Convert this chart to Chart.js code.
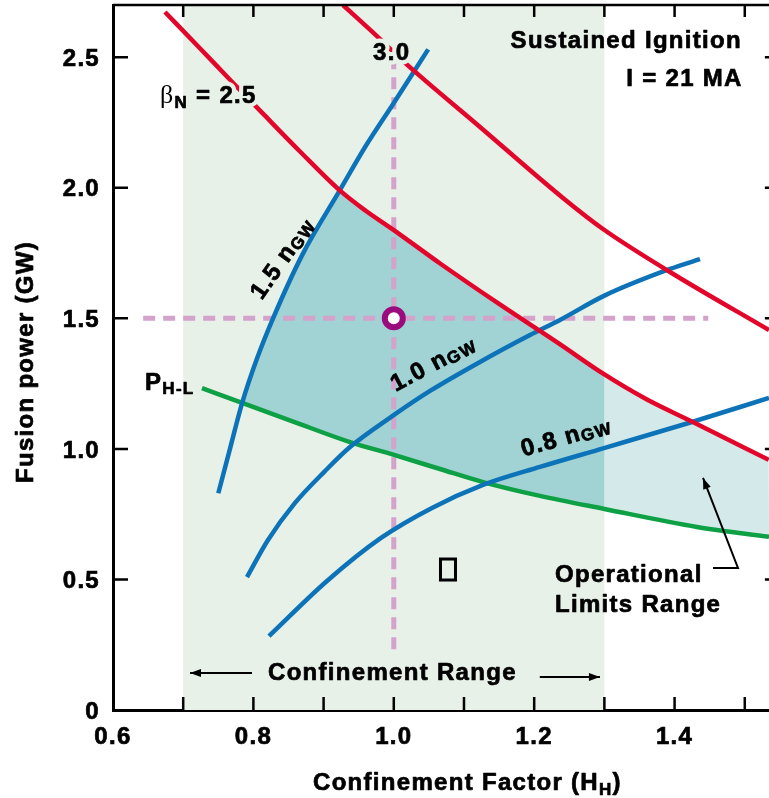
<!DOCTYPE html>
<html>
<head>
<meta charset="utf-8">
<script src="https://cdn.jsdelivr.net/npm/chart.js@4.4.0/dist/chart.umd.min.js"></script>
<style>
  html, body { margin: 0; padding: 0; background: #fff; }
  #wrap { width: 769px; height: 798px; }
</style>
</head>
<body>
<div id="wrap"><canvas id="chart" width="769" height="798"></canvas></div>
<script>
// Confinement factor H_H (x) against fusion power in GW (y)
const xTicks = [0.6, 0.8, 1.0, 1.2, 1.4];
const xMinorTicks = [0.7, 0.8, 0.9, 1.0, 1.1, 1.2, 1.3, 1.4, 1.5];
const yTicks = [0, 0.5, 1.0, 1.5, 2.0, 2.5];
const xRange = [0.6, 1.5345];
const yRange = [0, 2.7];
const confinementRange = [0.7, 1.3];

const betaN25 = [[0.674, 2.673], [0.72, 2.545], [0.767, 2.413], [0.815, 2.28], [0.866, 2.14], [0.923, 1.99],
  [0.96, 1.912], [1.0, 1.838], [1.066, 1.71], [1.15, 1.555], [1.237, 1.40], [1.3, 1.285], [1.36, 1.19],
  [1.426, 1.103], [1.534, 0.958]];
const betaN30 = [[0.9276, 2.70], [0.976, 2.581], [1.0117, 2.489], [1.1228, 2.233], [1.241, 1.961],
  [1.298, 1.842], [1.3934, 1.6775], [1.5345, 1.455]];
const nGW15 = [[0.75, 0.83], [0.767, 1.004], [0.784, 1.176], [0.805, 1.345], [0.828, 1.50], [0.87, 1.745],
  [0.923, 1.99], [0.96, 2.16], [1.0, 2.325], [1.049, 2.53]];
const nGW10 = [[0.7909, 0.509], [0.8208, 0.651], [0.8593, 0.793], [0.902, 0.915], [0.9376, 1.007],
  [1.0003, 1.13], [1.0516, 1.222], [1.1228, 1.333], [1.194, 1.436], [1.2368, 1.494], [1.2994, 1.586],
  [1.3934, 1.689], [1.4362, 1.727]];
const nGW08 = [[0.8222, 0.283], [0.9048, 0.494], [0.9818, 0.659], [1.0544, 0.774], [1.1271, 0.862],
  [1.2083, 0.931], [1.2994, 1.003], [1.4248, 1.103], [1.5345, 1.195]];
const powerHL = [[0.7268, 1.233], [0.784, 1.176], [0.8664, 1.095], [0.9376, 1.026], [1.0003, 0.977],
  [1.0658, 0.923], [1.1271, 0.873], [1.2083, 0.82], [1.3, 0.77], [1.4319, 0.701], [1.5345, 0.663]];
const operatingPoint = [[1.0, 1.5]];
const guideH = [[0.643, 1.5], [1.448, 1.5]];
const guideV = [[1.0, 2.50], [1.0, 0.22]];

const FONT = '"Liberation Sans", Arial, Helvetica, sans-serif';
const BAND = '#e7f1e8';
const RED = '#e3062b';
const BLUE = '#0d73b8';
const GREEN = '#0ea044';

function toXY(pts) {
  return pts.map(p => ({ x: p[0], y: p[1] }));
}

function between(pts, lo, hi) {
  return pts.filter(p => p[0] >= lo - 1e-9 && p[0] <= hi + 1e-9);
}

// operating region: left edge is the 1.5 nGW curve, top is beta 2.5, bottom is P_H-L
const xMeet = 0.784, xCorner = 0.923, xCut = confinementRange[1];
const darkRegion = [
  ...between(nGW15, xMeet, xCorner),
  ...between(betaN25, xCorner, xCut).slice(1),
  ...between(powerHL, xMeet, xCut).reverse()
];
const lightRegion = [
  ...between(betaN25, xCut, xRange[1]),
  ...between(powerHL, xCut, xRange[1]).reverse()
];
const bandRect = [
  [confinementRange[0], yRange[0]], [confinementRange[0], yRange[1]],
  [confinementRange[1], yRange[1]], [confinementRange[1], yRange[0]]
];

function curve(pts, color, order) {
  return { data: toXY(pts), showLine: true, borderColor: color, borderWidth: 4.5, pointRadius: 0,
    cubicInterpolationMode: 'monotone', fill: false, order: order };
}

function area(pts, color, order) {
  return { data: toXY(pts), showLine: true, borderColor: 'rgba(0,0,0,0)', borderWidth: 0,
    backgroundColor: color, pointRadius: 0, tension: 0, fill: 'shape', order: order };
}

function guide(pts) {
  return { data: toXY(pts), showLine: true, borderColor: '#d3a3cb', borderWidth: 5, borderDash: [12, 8],
    pointRadius: 0, fill: false, order: 7 };
}

function font(size, face) {
  return (face || 'bold ') + size + 'px ' + FONT;
}

// text made of pieces so subscripts can sit lower and smaller
function drawParts(ctx, parts, x, y, align) {
  let w = 0;
  parts.forEach(p => {
    ctx.font = p.font || font(p.size);
    p.w = ctx.measureText(p.text).width;
    w += p.w;
  });
  let cx = align === 'right' ? x - w : align === 'center' ? x - w / 2 : x;
  ctx.textAlign = 'left';
  ctx.textBaseline = 'alphabetic';
  ctx.lineJoin = 'round';
  parts.forEach(p => {
    ctx.font = p.font || font(p.size);
    const ty = y + (p.dy || 0);
    if (p.halo) {
      ctx.strokeStyle = p.halo;
      ctx.lineWidth = 9;
      ctx.strokeText(p.text, cx, ty);
    }
    ctx.fillStyle = '#000';
    ctx.fillText(p.text, cx, ty);
    if (!p.font) {
      ctx.strokeStyle = '#000';
      ctx.lineWidth = 0.7;
      ctx.strokeText(p.text, cx, ty);
    }
    cx += p.w;
  });
}

const notes = [
  { x: 0.667, y: 2.325, align: 'left', parts: [
    { text: 'β', font: '26px "Liberation Serif", serif' }, { text: 'N', size: 17, dy: 5 },
    { text: ' = 2.5', size: 24, halo: BAND }] },
  { x: 0.997, y: 2.49, align: 'center', parts: [{ text: '3.0', size: 24, halo: BAND }] },
  { x: 1.496, y: 2.535, align: 'right', parts: [{ text: 'Sustained Ignition', size: 24 }] },
  { x: 1.497, y: 2.39, align: 'right', parts: [{ text: 'I = 21 MA', size: 24 }] },
  { x: 0.6456, y: 1.2256, align: 'left', parts: [{ text: 'P', size: 24 }, { text: 'H-L', size: 17, dy: 4 }] },
  { x: 0.998, y: 0.115, align: 'center', parts: [{ text: 'Confinement Range', size: 24 }] },
  { x: 1.2296, y: 0.490, align: 'left', parts: [{ text: 'Operational', size: 24 }] },
  { x: 1.2296, y: 0.375, align: 'left', parts: [{ text: 'Limits Range', size: 24 }] },
  { x: 0.8407, y: 1.731, rot: -55, parts: [{ text: '1.5 n', size: 24 }, { text: 'GW', size: 17, dy: 2 }] },
  { x: 1.0558, y: 1.329, rot: -28, parts: [{ text: '1.0 n', size: 24 }, { text: 'GW', size: 17, dy: 2 }] },
  { x: 1.2453, y: 1.049, rot: -16, parts: [{ text: '0.8 n', size: 24 }, { text: 'GW', size: 17, dy: 2 }] }
];

const arrows = [
  [[0.798, 0.1417], [0.7097, 0.1417]],
  [[1.208, 0.1264], [1.2937, 0.1264]],
  [[1.4547, 0.5438], [1.4903, 0.5438], [1.4405, 0.8886]]
];
const missingGlyph = [1.0772, 0.538];

function arrow(ctx, pts) {
  ctx.beginPath();
  ctx.moveTo(pts[0][0], pts[0][1]);
  for (let i = 1; i < pts.length; i++) ctx.lineTo(pts[i][0], pts[i][1]);
  ctx.stroke();
  const a = pts[pts.length - 2], b = pts[pts.length - 1];
  const ang = Math.atan2(b[1] - a[1], b[0] - a[0]);
  ctx.save();
  ctx.translate(b[0], b[1]);
  ctx.rotate(ang);
  ctx.beginPath();
  ctx.moveTo(0, 0);
  ctx.lineTo(-11, -4);
  ctx.lineTo(-11, 4);
  ctx.closePath();
  ctx.fill();
  ctx.restore();
}

const decor = {
  id: 'decor',
  beforeDraw(chart) {
    chart.ctx.letterSpacing = '1.3px';
  },
  afterDraw(chart) {
    const { ctx, chartArea: a, scales: { x, y } } = chart;
    const px = v => x.getPixelForValue(v);
    const py = v => y.getPixelForValue(v);
    ctx.save();
    ctx.strokeStyle = '#000';
    ctx.fillStyle = '#000';

    // frame top and the inward ticks
    ctx.lineWidth = 2.5;
    ctx.beginPath();
    ctx.moveTo(a.left, a.top);
    ctx.lineTo(a.right, a.top);
    xMinorTicks.forEach(v => {
      ctx.moveTo(px(v), a.top);
      ctx.lineTo(px(v), a.top + 12);
      ctx.moveTo(px(v), a.bottom);
      ctx.lineTo(px(v), a.bottom - 13);
    });
    yTicks.slice(1).forEach(v => {
      ctx.moveTo(a.left, py(v));
      ctx.lineTo(a.left + 15, py(v));
      ctx.moveTo(px(1.55), py(v));
      ctx.lineTo(px(1.55) - 15, py(v));
    });
    ctx.stroke();

    notes.forEach(n => {
      ctx.save();
      if (n.rot) {
        ctx.translate(px(n.x), py(n.y));
        ctx.rotate(n.rot * Math.PI / 180);
        drawParts(ctx, n.parts, 0, 8, 'center');
      } else {
        drawParts(ctx, n.parts, px(n.x), py(n.y), n.align);
      }
      ctx.restore();
    });

    ctx.lineWidth = 2;
    ctx.strokeStyle = '#000';
    arrows.forEach(ar => arrow(ctx, ar.map(p => [px(p[0]), py(p[1])])));

    ctx.lineWidth = 3;
    ctx.strokeRect(px(missingGlyph[0]) - 7.5, py(missingGlyph[1]) - 10.5, 15, 21);

    // axis titles
    drawParts(ctx, [{ text: 'Confinement Factor (H', size: 24 }, { text: 'H', size: 17, dy: 5 },
      { text: ')', size: 24 }], 313, 790, 'left');
    ctx.translate(33, 362);
    ctx.rotate(-Math.PI / 2);
    drawParts(ctx, [{ text: 'Fusion power (GW)', size: 24 }], 0, 0, 'center');
    ctx.restore();
  }
};

const tickFont = { family: FONT, size: 24, weight: 'bold' };

new Chart(document.getElementById('chart'), {
  type: 'scatter',
  data: {
    datasets: [
      area(bandRect, BAND, 10),
      area(lightRegion, '#d4e9e9', 9),
      area(darkRegion, '#a1d2d4', 8),
      guide(guideH),
      guide(guideV),
      curve(powerHL, GREEN, 5),
      curve(nGW08, BLUE, 4),
      curve(nGW10, BLUE, 4),
      curve(nGW15, BLUE, 4),
      curve(betaN25, RED, 3),
      curve(betaN30, RED, 3),
      { data: toXY(operatingPoint), pointRadius: 9, borderWidth: 6, borderColor: '#9b0b7d',
        backgroundColor: '#fff', order: 0 }
    ]
  },
  options: {
    responsive: false,
    animation: false,
    devicePixelRatio: 1,
    events: [],
    layout: { autoPadding: false, padding: { top: 5, right: 0, bottom: 0, left: 0 } },
    plugins: { legend: { display: false }, tooltip: { enabled: false } },
    scales: {
      x: {
        type: 'linear', min: xRange[0], max: xRange[1],
        afterBuildTicks: s => { s.ticks = xTicks.map(v => ({ value: v })); },
        afterFit: s => { s.height = 88; s.paddingLeft = 0; s.paddingRight = 0; },
        grid: { drawOnChartArea: false, drawTicks: false },
        border: { display: true, color: '#000', width: 3 },
        ticks: { font: tickFont, color: '#000', padding: 13, maxRotation: 0, autoSkip: false,
          textStrokeColor: '#000', textStrokeWidth: 0.7, callback: v => v.toFixed(1) }
      },
      y: {
        type: 'linear', min: yRange[0], max: yRange[1],
        afterBuildTicks: s => { s.ticks = yTicks.map(v => ({ value: v })); },
        afterFit: s => { s.width = 113; s.paddingTop = 0; s.paddingBottom = 0; },
        grid: { drawOnChartArea: false, drawTicks: false },
        border: { display: true, color: '#000', width: 3 },
        ticks: { font: tickFont, color: '#000', padding: 13, labelOffset: 2, autoSkip: false,
          textStrokeColor: '#000', textStrokeWidth: 0.7,
          callback: v => (v === 0 ? '0' : v.toFixed(1)) }
      }
    }
  },
  plugins: [decor]
});
</script>
</body>
</html>
